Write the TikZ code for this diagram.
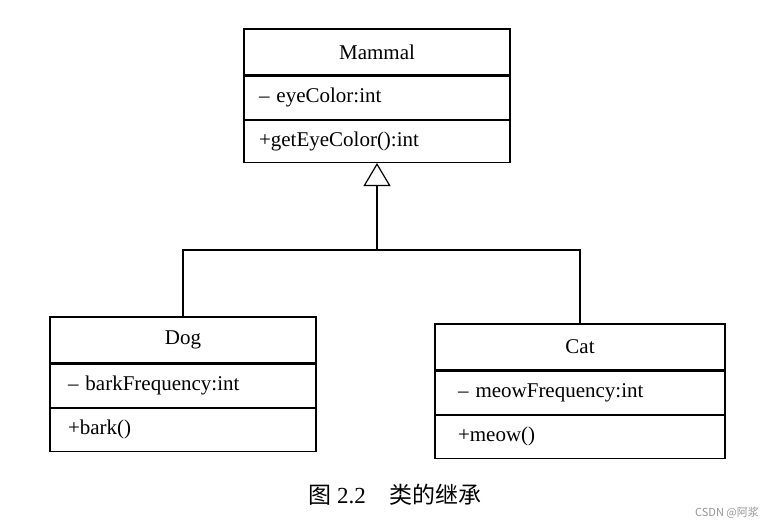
\documentclass[tikz,border=0pt]{standalone}
\usepackage{fontspec}
\setmainfont{Liberation Serif}
\newfontfamily\cjk{Noto Sans CJK SC}
\usetikzlibrary{arrows.meta,positioning}

\tikzset{
  classname/.style={draw, line width=1.2pt, minimum width=#1, minimum height=46pt, inner sep=0pt},
  member/.style={draw, line width=1.2pt, text width=#1, align=left, minimum height=43pt, inner ysep=0pt},
  inherit/.style={line width=1.2pt, -{Triangle[open,length=23pt,width=27pt,line width=1.2pt]}}
}

\begin{document}
\begin{tikzpicture}[x=1pt,y=1pt,node distance=0pt,font=\fontsize{21}{24}\selectfont]
\useasboundingbox (0,0) rectangle (778,-528);
\node[classname=266pt]                 (mammal)   at (377,-52)  {Mammal};
  \node[member=236pt, inner xsep=15pt, below=of mammal]     (mammalattr) {-- eyeColor:int};
  \node[member=236pt, inner xsep=15pt, below=of mammalattr, minimum height=42pt] (mammalop) {+getEyeColor():int};

\node[classname=266pt]                 (dog)      at (183,-340) {Dog};
  \node[member=230pt, inner xsep=18pt, below=of dog]        (dogattr)  {-- barkFrequency:int};
  \node[member=230pt, inner xsep=18pt, below=of dogattr, minimum height=43pt] (dogop) {+bark()};

\node[classname=290pt]                 (cat)      at (580,-347) {Cat};
  \node[member=244pt, inner xsep=23pt, below=of cat]        (catattr)  {-- meowFrequency:int};
  \node[member=244pt, inner xsep=23pt, below=of catattr, minimum height=43pt] (catop) {+meow()};

\coordinate (fork) at (377,-250);

  \draw[inherit] (fork) -- (mammalop.south);
  \draw[line width=1.2pt] (dog.north) |- (fork) -| (cat.north);

\node (caption) at (395,-495) {\fontsize{23}{26}\selectfont{\cjk 图}~2.2\hspace{24pt}{\cjk 类的继承}};
\node[text=black!42, font=\cjk\fontsize{11}{13}\selectfont] (mark) at (727,-513) {CSDN @阿浆};
\end{tikzpicture}
\end{document}
